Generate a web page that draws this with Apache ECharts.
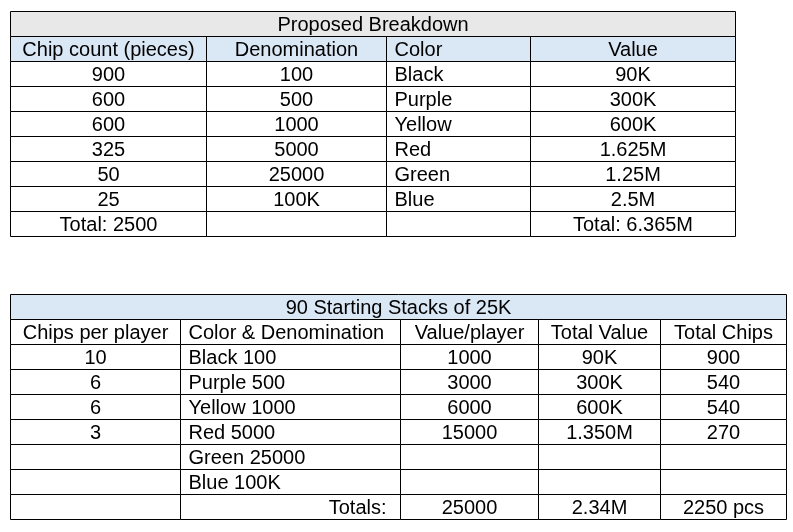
<!DOCTYPE html>
<html>
<head>
<meta charset="utf-8">
<script src="https://cdn.jsdelivr.net/npm/echarts@6/dist/echarts.min.js"></script>
<style>
  html, body { margin: 0; padding: 0; background: #fff; }
  #main { width: 793px; height: 532px; }
</style>
</head>
<body>
<div id="main"></div>
<script>
// ---- table 1: Proposed Breakdown ----
const breakdownTitle = "Proposed Breakdown";
const breakdownHeader = ["Chip count (pieces)", "Denomination", "Color", "Value"];
const chipCounts = ["900", "600", "600", "325", "50", "25"];
const denominations = ["100", "500", "1000", "5000", "25000", "100K"];
const chipColors = ["Black", "Purple", "Yellow", "Red", "Green", "Blue"];
const chipValues = ["90K", "300K", "600K", "1.625M", "1.25M", "2.5M"];
const breakdownTotals = ["Total: 2500", "", "", "Total: 6.365M"];

// ---- table 2: 90 Starting Stacks of 25K ----
const stackTitle = "90 Starting Stacks of 25K";
const stackHeader = ["Chips per player", "Color & Denomination", "Value/player", "Total Value", "Total Chips"];
const chipsPerPlayer = ["10", "6", "6", "3", "", ""];
const colorDenoms = ["Black 100", "Purple 500", "Yellow 1000", "Red 5000", "Green 25000", "Blue 100K"];
const valuePerPlayer = ["1000", "3000", "6000", "15000", "", ""];
const totalValues = ["90K", "300K", "600K", "1.350M", "", ""];
const totalChips = ["900", "540", "540", "270", "", ""];
const stackTotals = ["", "Totals:", "25000", "2.34M", "2250 pcs"];

// layout (pixel units on a hidden 793 x 532 value grid)
const ROW_H = 25;
const GREY = "#e8e8e8";
const BLUE = "#dae7f5";
const layout1 = { top: 11, cols: [10, 206, 386, 530, 735], align: ["center", "center", "left", "center"] };
const layout2 = { top: 294, cols: [10, 180, 400, 538, 660, 786], align: ["center", "left", "center", "center", "center"] };

const cells = [];

function addTable(lay, title, titleFill, header, headerFill, rows) {
  const cols = lay.cols;
  let y = lay.top;
  cells.push({ x0: cols[0], x1: cols[cols.length - 1], y0: y, y1: y + ROW_H, text: title, align: "center", fill: titleFill });
  y += ROW_H;
  header.forEach((h, i) => {
    cells.push({ x0: cols[i], x1: cols[i + 1], y0: y, y1: y + ROW_H, text: h, align: lay.align[i], fill: headerFill });
  });
  y += ROW_H;
  rows.forEach((r) => {
    r.forEach((t, i) => {
      cells.push({ x0: cols[i], x1: cols[i + 1], y0: y, y1: y + ROW_H, text: t, align: (r.alignOverride && r.alignOverride[i]) || lay.align[i], fill: "#fff" });
    });
    y += ROW_H;
  });
}

const rows1 = chipCounts.map((c, i) => [c, denominations[i], chipColors[i], chipValues[i]]);
rows1.push(breakdownTotals.slice());
addTable(layout1, breakdownTitle, GREY, breakdownHeader, BLUE, rows1);

const rows2 = colorDenoms.map((c, i) => [chipsPerPlayer[i], c, valuePerPlayer[i], totalValues[i], totalChips[i]]);
const totalsRow = stackTotals.slice();
totalsRow.alignOverride = [null, "right"];
rows2.push(totalsRow);
addTable(layout2, stackTitle, BLUE, stackHeader, "#fff", rows2);

function renderItem(params, api) {
  const c = cells[params.dataIndex];
  const p0 = api.coord([api.value(0), api.value(1)]);
  const p1 = api.coord([api.value(2), api.value(3)]);
  const x = Math.round(p0[0]) + 0.5;
  const y = Math.round(p0[1]) + 0.5;
  const w = Math.round(p1[0]) - Math.round(p0[0]);
  const h = Math.round(p1[1]) - Math.round(p0[1]);
  let tx = x + w / 2;
  if (c.align === "left") tx = x + 8;
  else if (c.align === "right") tx = x + w - 14;
  return {
    type: "group",
    children: [
      {
        type: "rect",
        shape: { x: x, y: y, width: w, height: h },
        style: { fill: c.fill, stroke: "#000", lineWidth: 1 },
      },
      {
        type: "text",
        style: {
          text: c.text,
          x: tx,
          y: y + h / 2 + 1.5,
          align: c.align,
          verticalAlign: "middle",
          fill: "#000",
          fontSize: 20,
          fontFamily: "Liberation Sans, Arial, sans-serif",
        },
      },
    ],
  };
}

const myChart = echarts.init(document.getElementById("main"), null, { renderer: "canvas" });
myChart.setOption({
  animation: false,
  backgroundColor: "#fff",
  grid: { left: 0, right: 0, top: 0, bottom: 0 },
  xAxis: { type: "value", min: 0, max: 793, show: false },
  yAxis: { type: "value", min: 0, max: 532, inverse: true, show: false },
  series: [
    {
      type: "custom",
      clip: false,
      renderItem: renderItem,
      data: cells.map((c) => [c.x0, c.y0, c.x1, c.y1]),
    },
  ],
});
</script>
</body>
</html>
